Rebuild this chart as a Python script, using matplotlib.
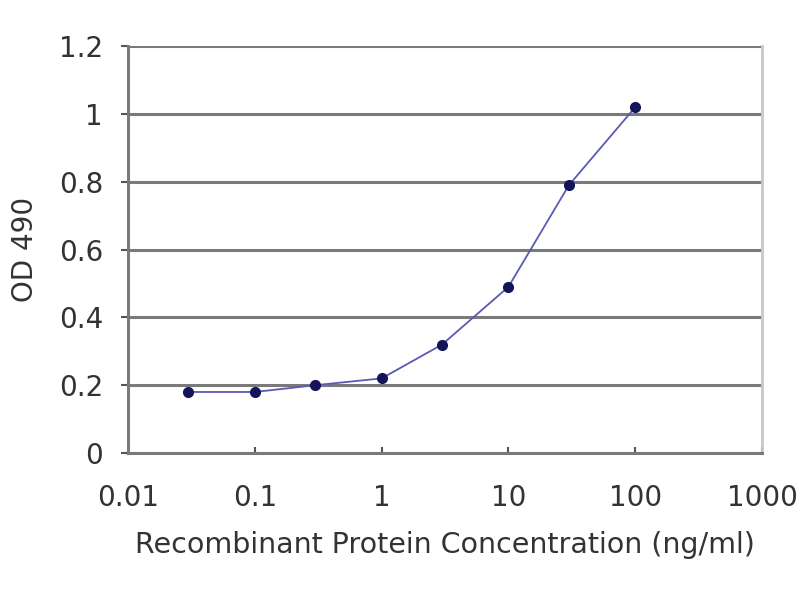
import numpy as np
from matplotlib import pyplot as plt

plt.rcParams['font.family'] = ['DejaVu Sans']

# ELISA standard curve
concentration = [0.03, 0.1, 0.3, 1, 3, 10, 30, 100]
od490 = [0.18, 0.18, 0.20, 0.22, 0.32, 0.49, 0.79, 1.02]

xticks = [0.01, 0.1, 1, 10, 100, 1000]
xtick_labels = ['0.01', '0.1', '1', '10', '100', '1000']
yticks = [0, 0.2, 0.4, 0.6, 0.8, 1, 1.2]
ytick_labels = ['0', '0.2', '0.4', '0.6', '0.8', '1', '1.2']

fig = plt.figure(figsize=(8, 6), dpi=100)
ax = fig.add_axes([0.16, 0.245, 0.7925, 0.678])

ax.plot(concentration, od490, color='#5a5ab4', lw=1.3, zorder=3)
ax.plot(concentration, od490, 'o', color='#14145a', ms=7, zorder=4)

ax.set_xscale('log')
ax.set_xlim(0.01, 1000)
ax.set_ylim(0, 1.2)
ax.set_xticks(xticks)
ax.set_xticklabels(xtick_labels)
ax.xaxis.set_minor_locator(plt.NullLocator())
ax.set_yticks(yticks)
ax.set_yticklabels(ytick_labels)

ax.grid(axis='y', color='#7a7a7a', lw=2.2, zorder=1)
ax.set_axisbelow(True)

for side in ['left', 'bottom']:
    ax.spines[side].set_color('#7a7a7a')
    ax.spines[side].set_linewidth(2.2)
ax.spines['top'].set_visible(False)
ax.spines['right'].set_color('#c8c8c8')
ax.spines['right'].set_linewidth(2)

ax.tick_params(axis='x', direction='in', length=4, width=1.5, color='#555555',
               labelsize=20, labelcolor='#333333', pad=22)
ax.tick_params(axis='y', direction='out', length=5, width=1.5, color='#555555',
               labelsize=20, labelcolor='#333333', pad=13)

ax.set_xlabel('Recombinant Protein Concentration (ng/ml)', fontsize=20.5,
              color='#333333', labelpad=14)
ax.set_ylabel('OD 490', fontsize=20, color='#333333', labelpad=14)

fig.savefig('out.png', dpi=100)
